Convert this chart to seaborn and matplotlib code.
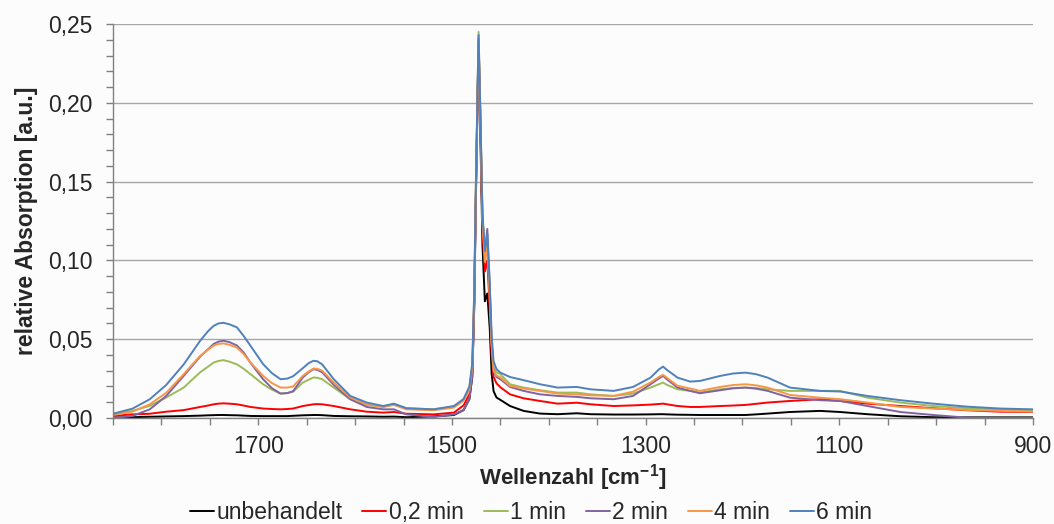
import numpy as np
import pandas as pd
import matplotlib
matplotlib.use("Agg")
import matplotlib.pyplot as plt
import seaborn as sns
from matplotlib.ticker import FixedLocator, MultipleLocator, FuncFormatter

# ---------------- data ----------------
wellenzahl = [1850, 1830, 1812, 1795, 1777, 1760, 1752, 1746, 1741, 1736, 1730, 1722, 1715, 1708,
              1695, 1686, 1677, 1670, 1664, 1654, 1648, 1643, 1639, 1634, 1622, 1605, 1588, 1571,
              1560, 1547, 1519, 1498, 1488, 1482, 1479, 1477, 1475, 1472.5,
              1470.5, 1468.5, 1466, 1463.5, 1461, 1459, 1457, 1454, 1450, 1440,
              1426, 1409, 1391, 1371, 1357, 1333, 1313, 1295, 1286, 1282, 1278, 1267,
              1254, 1244, 1223, 1210, 1197, 1186, 1174, 1151, 1120, 1099, 1071, 1037,
              1003, 968, 934, 900]

unbehandelt = [0.0003, 0.0005, 0.0008, 0.0010, 0.0012, 0.0015, 0.0017, 0.0018, 0.0019, 0.0019, 0.0018, 0.0017, 0.0015, 0.0013,
               0.0012, 0.0012, 0.0012, 0.0012, 0.0014, 0.0017, 0.0018, 0.0019, 0.0019, 0.0018, 0.0013, 0.0011, 0.0010, 0.0008,
               0.0009, 0.0005, 0.0010, 0.0019, 0.0050, 0.012, 0.026, 0.070, 0.150, 0.238,
               0.175, 0.110, 0.074, 0.079, 0.057, 0.028, 0.017, 0.013, 0.0115, 0.0076,
               0.0045, 0.0028, 0.0024, 0.0030, 0.0024, 0.0022, 0.0022, 0.0023, 0.0024, 0.0024, 0.0023, 0.0021,
               0.0020, 0.0019, 0.0019, 0.0019, 0.0019, 0.0023, 0.0028, 0.0038, 0.0045, 0.0038, 0.0024, 0.0011,
               0.0005, 0.0004, 0.0004, 0.0004]

min_0_2 = [0.0013, 0.0023, 0.0027, 0.0040, 0.0050, 0.0070, 0.0079, 0.0087, 0.0091, 0.0093, 0.0091, 0.0087, 0.0079, 0.0070,
           0.0060, 0.0057, 0.0055, 0.0057, 0.0060, 0.0076, 0.0082, 0.0087, 0.0088, 0.0087, 0.0076, 0.0055, 0.0040, 0.0034,
           0.0038, 0.0027, 0.0023, 0.0034, 0.008, 0.015, 0.029, 0.074, 0.154, 0.240,
           0.182, 0.120, 0.093, 0.100, 0.070, 0.040, 0.026, 0.022, 0.0195, 0.0150,
           0.0125, 0.0108, 0.0091, 0.0097, 0.0087, 0.0076, 0.0080, 0.0085, 0.0089, 0.0091, 0.0087, 0.0076,
           0.0070, 0.0070, 0.0076, 0.0079, 0.0083, 0.0090, 0.0098, 0.0108, 0.0119, 0.0108, 0.0091, 0.0076,
           0.0062, 0.0049, 0.0040, 0.0038]

min_1 = [0.0027, 0.0045, 0.0077, 0.0130, 0.0193, 0.0290, 0.0325, 0.0352, 0.0362, 0.0367, 0.0358, 0.0340, 0.0312, 0.0278,
         0.0214, 0.0180, 0.0155, 0.0158, 0.0167, 0.0225, 0.0243, 0.0257, 0.0255, 0.0246, 0.0193, 0.0119, 0.0083, 0.0070,
         0.0087, 0.0062, 0.0055, 0.0070, 0.012, 0.019, 0.033, 0.078, 0.158, 0.245,
         0.188, 0.128, 0.103, 0.110, 0.080, 0.048, 0.032, 0.029, 0.0278, 0.0214,
         0.0193, 0.0176, 0.0161, 0.0161, 0.0150, 0.0140, 0.0155, 0.0193, 0.0215, 0.0225, 0.0210, 0.0182,
         0.0172, 0.0161, 0.0182, 0.0190, 0.0193, 0.0190, 0.0182, 0.0172, 0.0172, 0.0172, 0.0129, 0.0098,
         0.0076, 0.0062, 0.0055, 0.0045]

min_2 = [0.0000, 0.0013, 0.0055, 0.0140, 0.0267, 0.0390, 0.0435, 0.0470, 0.0485, 0.0490, 0.0482, 0.0460, 0.0415, 0.0350,
         0.0246, 0.0190, 0.0155, 0.0158, 0.0170, 0.0257, 0.0290, 0.0310, 0.0305, 0.0290, 0.0210, 0.0119, 0.0070, 0.0055,
         0.0055, 0.0023, 0.0006, 0.0023, 0.005, 0.012, 0.027, 0.072, 0.152, 0.240,
         0.186, 0.128, 0.105, 0.120, 0.085, 0.048, 0.030, 0.026, 0.0246, 0.0197,
         0.0172, 0.0150, 0.0140, 0.0134, 0.0125, 0.0119, 0.0140, 0.0214, 0.0252, 0.0267, 0.0245, 0.0193,
         0.0172, 0.0157, 0.0176, 0.0188, 0.0193, 0.0186, 0.0172, 0.0129, 0.0113, 0.0108, 0.0076, 0.0038,
         0.0019, 0.0002, 0.0000, 0.0000]

min_4 = [0.0019, 0.0040, 0.0087, 0.0160, 0.0278, 0.0394, 0.0432, 0.0460, 0.0470, 0.0473, 0.0465, 0.0447, 0.0405, 0.0352,
         0.0267, 0.0222, 0.0193, 0.0193, 0.0200, 0.0267, 0.0295, 0.0314, 0.0312, 0.0300, 0.0225, 0.0130, 0.0087, 0.0070,
         0.0083, 0.0055, 0.0049, 0.0066, 0.011, 0.018, 0.032, 0.077, 0.157, 0.241,
         0.186, 0.125, 0.099, 0.109, 0.078, 0.046, 0.030, 0.027, 0.0257, 0.0204,
         0.0187, 0.0172, 0.0155, 0.0150, 0.0144, 0.0140, 0.0167, 0.0225, 0.0262, 0.0274, 0.0255, 0.0204,
         0.0187, 0.0172, 0.0197, 0.0209, 0.0214, 0.0207, 0.0193, 0.0146, 0.0129, 0.0119, 0.0098, 0.0070,
         0.0060, 0.0051, 0.0045, 0.0040]

min_6 = [0.0027, 0.0059, 0.0119, 0.0210, 0.0340, 0.0490, 0.0550, 0.0585, 0.0600, 0.0604, 0.0595, 0.0575, 0.0520, 0.0458,
         0.0342, 0.0285, 0.0246, 0.0250, 0.0265, 0.0316, 0.0348, 0.0363, 0.0360, 0.0340, 0.0246, 0.0140, 0.0098, 0.0076,
         0.0091, 0.0062, 0.0055, 0.0076, 0.012, 0.020, 0.035, 0.080, 0.160, 0.243,
         0.190, 0.130, 0.106, 0.117, 0.085, 0.052, 0.036, 0.031, 0.0288, 0.0260,
         0.0240, 0.0214, 0.0193, 0.0197, 0.0182, 0.0172, 0.0197, 0.0256, 0.0310, 0.0326, 0.0305, 0.0256,
         0.0231, 0.0235, 0.0267, 0.0282, 0.0288, 0.0278, 0.0256, 0.0193, 0.0172, 0.0168, 0.0140, 0.0113,
         0.0091, 0.0072, 0.0060, 0.0055]

series_names = ["unbehandelt", "0,2 min", "1 min", "2 min", "4 min", "6 min"]
series_values = [unbehandelt, min_0_2, min_1, min_2, min_4, min_6]
colors = ["#000000", "#ff0000", "#9bbb59", "#8064a2", "#f79646", "#4f81bd"]

x_major_labels = [1700, 1500, 1300, 1100, 900]

# ---------------- build long-form table ----------------
frames = []
for name, vals in zip(series_names, series_values):
    frames.append(pd.DataFrame({"Wellenzahl": wellenzahl, "Absorption": vals, "Probe": name}))
df = pd.concat(frames, ignore_index=True)

# ---------------- style ----------------
sns.set_theme(style="white")
plt.rcParams["font.family"] = ["Liberation Sans", "DejaVu Sans"]
plt.rcParams["mathtext.fontset"] = "custom"
plt.rcParams["mathtext.rm"] = "Liberation Sans"
plt.rcParams["mathtext.bf"] = "Liberation Sans:bold"

bg = "#fcfcfc"
fig = plt.figure(figsize=(10.54, 5.24), dpi=100, facecolor=bg)
ax = fig.add_axes([0.1072, 0.2023, 0.8729, 0.7519], facecolor=bg)

sns.lineplot(data=df, x="Wellenzahl", y="Absorption", hue="Probe",
             hue_order=series_names, palette=colors, sort=False,
             linewidth=1.4, ax=ax, legend=False, estimator=None)

ax.set_xlim(1850, 900)
ax.set_ylim(0, 0.25)

# grid & spines
ax.yaxis.set_major_locator(MultipleLocator(0.05))
ax.yaxis.set_minor_locator(MultipleLocator(0.01))
ax.grid(axis="y", which="major", color="#a6a6a6", linewidth=1.0)
ax.grid(axis="x", visible=False)
ax.set_axisbelow(True)
for s in ["top", "right"]:
    ax.spines[s].set_visible(False)
for s in ["left", "bottom"]:
    ax.spines[s].set_color("#808080")
    ax.spines[s].set_linewidth(1.0)

ax.yaxis.set_major_formatter(FuncFormatter(lambda v, p: f"{v:.2f}".replace(".", ",")))
ax.tick_params(axis="y", which="both", direction="out", left=True, length=5,
               width=1.0, color="#808080", labelsize=16.5, pad=10)

# x ticks every 50, labels every 200
ax.xaxis.set_major_locator(FixedLocator(np.arange(900, 1851, 50)))
ax.xaxis.set_major_formatter(FuncFormatter(lambda v, p: f"{int(round(v))}" if int(round(v)) in x_major_labels else ""))
ax.tick_params(axis="x", which="both", direction="out", bottom=True, length=5,
               width=1.0, color="#808080", labelsize=16.5, pad=7)

ax.set_xlabel(r"Wellenzahl [cm$^{\mathbf{-1}}$]", fontsize=16, fontweight="bold", labelpad=3)
ax.set_ylabel("relative Absorption [a.u.]", fontsize=16.5, fontweight="bold", labelpad=7)

# legend
handles = [plt.Line2D([0], [0], color=c, linewidth=1.4) for c in colors]
fig.legend(handles, series_names, loc="center", bbox_to_anchor=(0.504, 0.022),
           ncol=6, frameon=False, fontsize=16.5, handlelength=1.05, handletextpad=0.1,
           columnspacing=0.87, borderpad=0, borderaxespad=0)

fig.savefig("out.png", dpi=100, facecolor=bg)
